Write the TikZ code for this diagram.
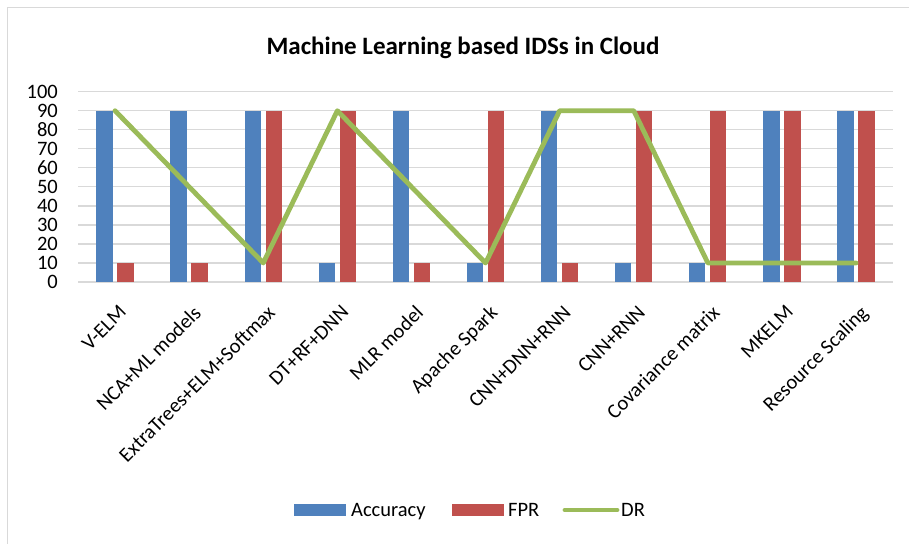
\documentclass[tikz,border=0pt]{standalone}
\usepackage{fontspec}
\setmainfont{Carlito}
\definecolor{accblue}{HTML}{4F81BD}
\definecolor{fprred}{HTML}{C0504D}
\definecolor{drgreen}{HTML}{9BBB59}
\definecolor{gridgray}{HTML}{D9D9D9}
\begin{document}
\begin{tikzpicture}[x=1bp,y=-1bp,
  gridline/.style={gridgray,line width=1.3bp},
  accbar/.style={fill=accblue},
  fprbar/.style={fill=fprred},
  drline/.style={drgreen,line width=4.8bp,line join=round,line cap=round},
  ticklab/.style={anchor=east,inner sep=0pt,font=\fontsize{20.5bp}{24bp}\selectfont},
  catlab/.style={anchor=north east,rotate=45,inner sep=0pt,font=\fontsize{20.5bp}{24bp}\selectfont},
  leglab/.style={anchor=base west,inner sep=0pt,font=\fontsize{20.5bp}{24bp}\selectfont},
  titlelab/.style={anchor=base,inner sep=0pt,font=\bfseries\fontsize{25bp}{29bp}\selectfont}]
\useasboundingbox (0,0) rectangle (909,544);
\fill[white] (0,0) rectangle (909,544);
\draw[gridgray,line width=1.5bp] (7.3,544) -- (7.3,7.3) -- (909,7.3);
% title
\node[titlelab] (title) at (463,55) {Machine Learning based IDSs in Cloud};
% grid and ticks
\foreach \v in {0,10,...,100}{
  \draw[gridline] (78,{282-1.903*\v}) -- (893,{282-1.903*\v});
  \node[ticklab] (tick\v) at (58,{282-1.903*\v}) {\v};
}
% bars
\foreach \i/\a/\f in {0/90/10,1/90/10,2/90/90,3/10/90,4/90/10,5/10/90,6/90/10,7/10/90,8/10/90,9/90/90,10/90/90}{
  \pgfmathsetmacro\cx{78+(\i+0.5)*74.1}
  \fill[accbar] (\cx-18.7,282) rectangle (\cx-2.4,{282-1.903*\a});
  \fill[fprbar] (\cx+2.3,282) rectangle (\cx+18.6,{282-1.903*\f});
}
% DR points
\foreach \i/\d in {0/90,1/50,2/10,3/90,4/50,5/10,6/90,7/90,8/10,9/10,10/10}{
  \coordinate (dr\i) at ({78+(\i+0.5)*74.1},{282-1.903*\d});
}
\draw[drline] (dr0) -- (dr1) -- (dr2) -- (dr3) -- (dr4) -- (dr5) -- (dr6) -- (dr7) -- (dr8) -- (dr9) -- (dr10);
% category labels
\foreach \i/\t in {0/V-ELM,1/NCA+ML models,2/ExtraTrees+ELM+Softmax,3/DT+RF+DNN,4/MLR model,5/Apache Spark,6/CNN+DNN+RNN,7/CNN+RNN,8/Covariance matrix,9/MKELM,10/Resource Scaling}{
  \node[catlab] (cat\i) at ({78+(\i+0.5)*74.1+3},304) {\t};
}
% legend
\fill[accbar] (294,504.3) rectangle (345.7,515.7);
\node[leglab] (legacc) at (351,516) {Accuracy};
\fill[fprbar] (452,504.3) rectangle (503.7,515.7);
\node[leglab] (legfpr) at (508,516) {FPR};
\coordinate (dra) at (565,510);
\coordinate (drb) at (617,510);
\draw[drline] (dra) -- (drb);
\node[leglab] (legdr) at (621,516) {DR};
\end{tikzpicture}
\end{document}
